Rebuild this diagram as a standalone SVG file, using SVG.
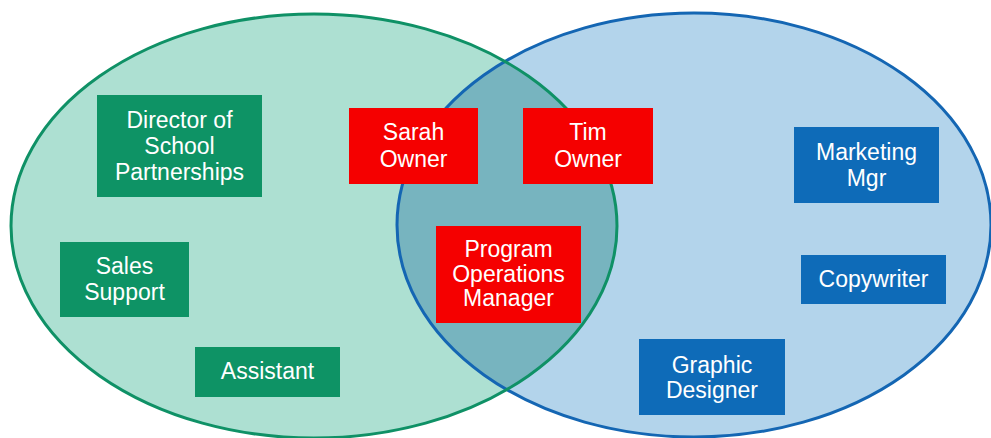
<svg xmlns="http://www.w3.org/2000/svg" width="991" height="438" viewBox="0 0 991 438">
<style>
text{font-family:"Liberation Sans",Arial,sans-serif;font-size:23px;fill:#ffffff;text-anchor:middle}
.g{fill:#0e9365}
.r{fill:#f50000}
.b{fill:#0e6bb8}
</style>
<defs>
<clipPath id="clipBlue"><ellipse cx="694" cy="225" rx="297" ry="212"/></clipPath>
</defs>
<rect width="991" height="438" fill="#ffffff"/>
<g id="sets">
<ellipse cx="314" cy="226" rx="303" ry="212" fill="#ade0d2"/>
<ellipse cx="694" cy="225" rx="297" ry="212" fill="#b3d4eb"/>
<ellipse cx="314" cy="226" rx="303" ry="212" fill="#77b4bf" clip-path="url(#clipBlue)"/>
<ellipse cx="694" cy="225" rx="297" ry="212" fill="none" stroke="#1466b3" stroke-width="3"/>
<ellipse cx="314" cy="226" rx="303" ry="212" fill="none" stroke="#0f9166" stroke-width="3"/>
</g>
<g id="connectors"></g>
<g id="director"><rect class="g" x="97" y="95" width="165" height="102"/><text x="179.5" y="128">Director of</text><text x="179.5" y="154">School</text><text x="179.5" y="180">Partnerships</text></g>
<g id="sales"><rect class="g" x="60" y="242" width="129" height="75"/><text x="124.5" y="274">Sales</text><text x="124.5" y="300">Support</text></g>
<g id="assistant"><rect class="g" x="195" y="347" width="145" height="50"/><text x="267.5" y="379">Assistant</text></g>
<g id="sarah"><rect class="r" x="349" y="108" width="129" height="76"/><text x="413.5" y="140">Sarah</text><text x="413.5" y="167">Owner</text></g>
<g id="tim"><rect class="r" x="523" y="108" width="130" height="76"/><text x="588" y="140">Tim</text><text x="588" y="167">Owner</text></g>
<g id="pom"><rect class="r" x="436" y="226" width="145" height="97"/><text x="508.5" y="257">Program</text><text x="508.5" y="282">Operations</text><text x="508.5" y="306">Manager</text></g>
<g id="marketing"><rect class="b" x="794" y="127" width="145" height="76"/><text x="866.5" y="160">Marketing</text><text x="866.5" y="186">Mgr</text></g>
<g id="copywriter"><rect class="b" x="801" y="255" width="145" height="49"/><text x="873.5" y="287">Copywriter</text></g>
<g id="graphic"><rect class="b" x="639" y="339" width="146" height="76"/><text x="712" y="373">Graphic</text><text x="712" y="398">Designer</text></g>
</svg>
